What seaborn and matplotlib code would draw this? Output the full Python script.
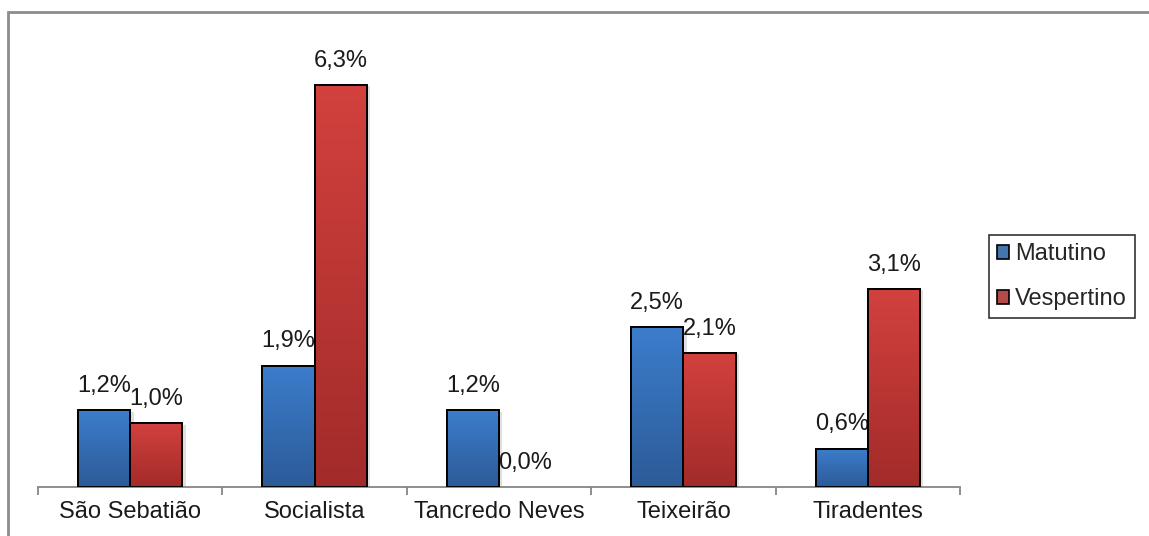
import numpy as np
import pandas as pd
import matplotlib
matplotlib.use("Agg")
import matplotlib.pyplot as plt
import matplotlib.patheffects as pe
from matplotlib.patches import Rectangle
from matplotlib.colors import LinearSegmentedColormap
import seaborn as sns

# Data
escolas = ["São Sebatião", "Socialista", "Tancredo Neves", "Teixeirão", "Tiradentes"]
matutino = [1.2, 1.9, 1.2, 2.5, 0.6]
vespertino = [1.0, 6.3, 0.0, 2.1, 3.1]
turnos = ["Matutino", "Vespertino"]

df = pd.DataFrame({
    "Escola": escolas * 2,
    "Turno": [turnos[0]] * len(escolas) + [turnos[1]] * len(escolas),
    "Valor": matutino + vespertino,
})

sns.set_theme(style="white")
plt.rcParams["font.family"] = ["Liberation Sans", "DejaVu Sans"]

W, H, DPI = 1149, 536, 100
fig = plt.figure(figsize=(W / DPI, H / DPI), dpi=DPI)
ax = fig.add_axes([38 / W, 1 - 487 / H, (960 - 38) / W, (487 - 40) / H])

palette = {"Matutino": "#3572bd", "Vespertino": "#c43a37"}
grad = {
    "Matutino": ("#3c7dcc", "#2c5b98"),
    "Vespertino": ("#d2413e", "#a22b29"),
}

sns.barplot(data=df, x="Escola", y="Valor", hue="Turno", hue_order=turnos,
            order=escolas, palette=palette, width=0.566, gap=0,
            edgecolor="black", linewidth=1.4, errorbar=None, ax=ax,
            legend=True)

ax.set_xlim(-0.5, len(escolas) - 0.5)
ax.set_ylim(0, 7)

# vertical gradient fill and soft shadow on each bar
shadow = [pe.SimplePatchShadow(offset=(2.5, -1), shadow_rgbFace="#9a9a9a", alpha=0.3), pe.Normal()]
for cont, turno in zip(ax.containers, turnos):
    top_c, bot_c = grad[turno]
    cmap = LinearSegmentedColormap.from_list(turno, [bot_c, top_c])
    for bar in cont:
        h = bar.get_height()
        if h <= 0:
            bar.set_visible(False)
            continue
        bar.set_path_effects(shadow)
        x0, w = bar.get_x(), bar.get_width()
        img = ax.imshow(np.linspace(0, 1, 256).reshape(-1, 1), cmap=cmap,
                        aspect="auto", origin="lower",
                        extent=[x0, x0 + w, 0, h], zorder=2.5)
        img.set_clip_path(bar)
        ax.add_patch(Rectangle((x0, 0), w, h, facecolor="none",
                               edgecolor="black", linewidth=1.4, zorder=3))
    labels = [f"{v:.1f}%".replace(".", ",") for v in cont.datavalues]
    ax.bar_label(cont, labels=labels, padding=9.5, fontsize=17, color="#1a1a1a")

ax.set_xlim(-0.5, len(escolas) - 0.5)
ax.set_ylim(0, 7)

# axes styling
for s in ["left", "top", "right"]:
    ax.spines[s].set_visible(False)
ax.spines["bottom"].set_color("#868686")
ax.spines["bottom"].set_linewidth(1.3)
ax.set_yticks([])
ax.set_xlabel("")
ax.set_ylabel("")
ax.set_xticks(range(len(escolas)))
ax.set_xticklabels(escolas, fontsize=17, color="#1a1a1a")
ax.set_xticks(np.arange(-0.5, len(escolas), 1.0), minor=True)
ax.tick_params(axis="x", which="major", length=0, pad=10)
ax.tick_params(axis="x", which="minor", length=6, width=1.3, color="#868686",
               direction="out", bottom=True)
ax.patch.set_alpha(0)

# legend
handles, lbls = ax.get_legend_handles_labels()
ax.legend_.remove()
leg = fig.legend(handles, lbls, loc="upper left",
                 bbox_to_anchor=(989 / W, 1 - 235 / H), borderaxespad=0,
                 fontsize=17, frameon=True, fancybox=False, edgecolor="black",
                 handlelength=0.5, handleheight=0.5, handletextpad=0.25,
                 labelspacing=0.97, borderpad=0.35)
leg.get_frame().set_linewidth(1.2)
for hnd in leg.legend_handles:
    hnd.set_edgecolor("black")
    hnd.set_linewidth(1.2)

# outer chart border
fig.add_artist(Rectangle((8 / W, -0.2), 1.2, 1.2 - 12 / H, transform=fig.transFigure,
                         facecolor="none", edgecolor="#8c8c8c", linewidth=2))

fig.savefig("out.png", dpi=DPI)
